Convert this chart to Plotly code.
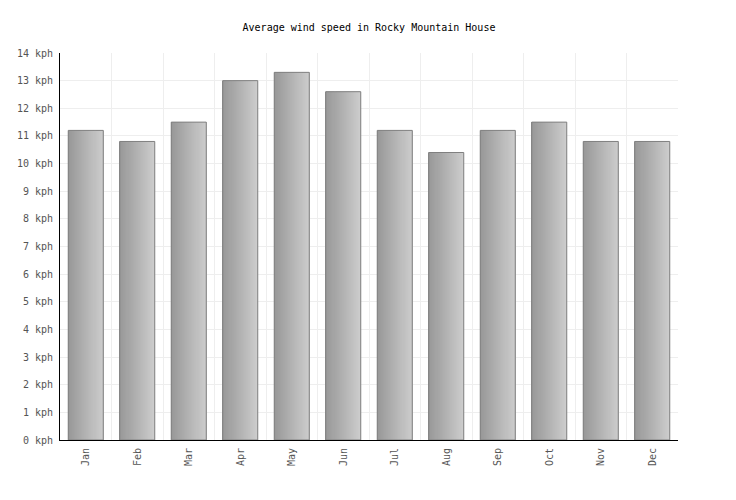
import plotly.graph_objects as go

months = ["Jan", "Feb", "Mar", "Apr", "May", "Jun", "Jul", "Aug", "Sep", "Oct", "Nov", "Dec"]
wind_kph = [11.2, 10.8, 11.5, 13.0, 13.3, 12.6, 11.2, 10.4, 11.2, 11.5, 10.8, 10.8]

fig = go.Figure()

# fake the left-to-right gradient with thin overlaid bar strips
n_strips = 34
bar_w = 0.68
strip = bar_w / n_strips
for i in range(n_strips):
    t = i / (n_strips - 1)
    g = int(0x98 + t * (0xcc - 0x98))
    fig.add_trace(go.Bar(
        x=months, y=wind_kph,
        width=strip + 0.004, offset=-bar_w / 2 + i * strip,
        marker=dict(color=f"rgb({g},{g},{g})", line=dict(width=0)),
        hoverinfo="skip", showlegend=False,
    ))

# outline
fig.add_trace(go.Bar(
    x=months, y=wind_kph, width=bar_w, offset=-bar_w / 2,
    marker=dict(color="rgba(0,0,0,0)", line=dict(color="#808080", width=1)),
    showlegend=False,
))

fig.update_layout(
    barmode="overlay",
    width=736, height=500,
    margin=dict(l=52, r=66, t=45, b=68),
    paper_bgcolor="white", plot_bgcolor="white",
    font=dict(family="DejaVu Sans Mono", size=10, color="#555555"),
    title=dict(text="Average wind speed in Rocky Mountain House", x=0.5, xanchor="center",
               xref="paper", y=1 - 19 / 500, yanchor="middle",
               font=dict(family="DejaVu Sans Mono", size=10, color="#000000")),
)
fig.update_xaxes(
    type="category", range=[-0.5, 11.5], tickson="boundaries",
    showgrid=True, gridcolor="#eeeeee", gridwidth=1,
    showline=True, linecolor="#000000", linewidth=1,
    ticks="", tickangle=-90, tickfont=dict(size=10), ticklabelstandoff=3,
    automargin=False,
)
fig.update_yaxes(
    range=[0, 14], dtick=1, ticksuffix=" kph",
    showgrid=True, gridcolor="#eeeeee", gridwidth=1,
    showline=True, linecolor="#000000", linewidth=1,
    ticks="", zeroline=False, tickfont=dict(size=10), ticklabelstandoff=4,
    automargin=False,
)

fig.write_html("out.html")
